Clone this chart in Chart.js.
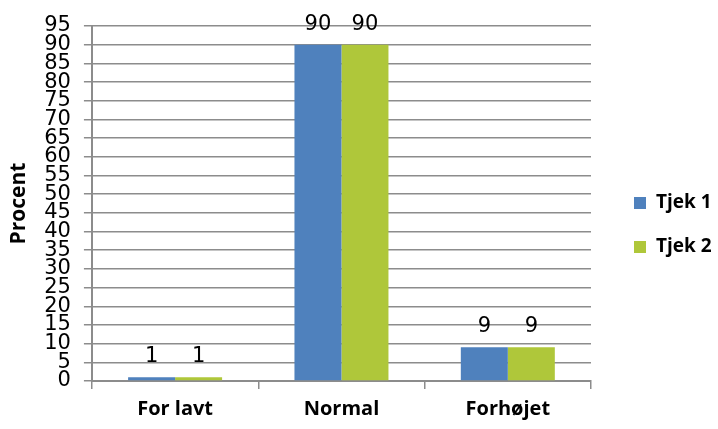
<!DOCTYPE html>
<html>
<head>
<meta charset="utf-8">
<script src="https://cdn.jsdelivr.net/npm/chart.js@4"></script>
<style>
  html, body { margin: 0; padding: 0; background: #fff; }
  #wrap { width: 718px; height: 429px; }
</style>
</head>
<body>
<div id="wrap"><canvas id="myChart" width="718" height="429"></canvas></div>
<script>
var categories = ['For lavt', 'Normal', 'Forhøjet'];
var tjek1 = [1, 90, 9];
var tjek2 = [1, 90, 9];
var seriesNames = ['Tjek 1', 'Tjek 2'];
var yTicks = [0, 5, 10, 15, 20, 25, 30, 35, 40, 45, 50, 55, 60, 65, 70, 75, 80, 85, 90, 95];

var blue = '#4F81BD';
var green = '#AFC73A';
var gridGray = '#8C8C8C';

// value labels above each bar
var valueLabels = {
    id: 'valueLabels',
    afterDatasetsDraw: function(chart) {
        var c = chart.ctx;
        c.save();
        c.font = '21px "DejaVu Sans"';
        c.fillStyle = '#000';
        c.textAlign = 'center';
        c.textBaseline = 'bottom';
        chart.data.datasets.forEach(function(ds, i) {
            chart.getDatasetMeta(i).data.forEach(function(bar, j) {
                c.fillText(ds.data[j], bar.x, bar.y - 10);
            });
        });
        c.restore();
    }
};

// legend drawn at the right, like the original
var sideLegend = {
    id: 'sideLegend',
    afterDraw: function(chart) {
        var c = chart.ctx;
        c.save();
        c.font = 'bold 19px "Open Sans"';
        c.textBaseline = 'middle';
        c.textAlign = 'left';
        chart.data.datasets.forEach(function(ds, i) {
            var y = 203 + i * 44;
            c.fillStyle = ds.backgroundColor;
            c.fillRect(634, y - 6, 12, 12);
            c.fillStyle = '#000';
            c.fillText(ds.label, 656, y);
        });
        c.restore();
    }
};

var ctx = document.getElementById('myChart');
var myChart = new Chart(ctx, {
    type: 'bar',
    data: {
        labels: categories,
        datasets: [{
            label: seriesNames[0],
            data: tjek1,
            backgroundColor: blue,
            categoryPercentage: 0.565,
            barPercentage: 1.0
        }, {
            label: seriesNames[1],
            data: tjek2,
            backgroundColor: green,
            categoryPercentage: 0.565,
            barPercentage: 1.0
        }]
    },
    options: {
        responsive: false,
        animation: false,
        layout: { padding: { top: 26, right: 127, left: 6, bottom: 0 } },
        plugins: {
            legend: { display: false },
            tooltip: { enabled: false }
        },
        scales: {
            x: {
                grid: {
                    offset: true,
                    drawOnChartArea: false,
                    drawTicks: true,
                    tickLength: 8,
                    color: gridGray,
                    lineWidth: 1.5
                },
                border: { color: gridGray, width: 2 },
                ticks: {
                    color: '#000',
                    padding: 8,
                    font: { family: '"Open Sans"', size: 20, weight: 'bold' }
                }
            },
            y: {
                min: 0,
                max: 95,
                afterBuildTicks: function(axis) {
                    axis.ticks = yTicks.map(function(v) { return { value: v }; });
                },
                grid: {
                    color: gridGray,
                    lineWidth: 1.5,
                    tickLength: 8
                },
                border: { color: gridGray, width: 2 },
                ticks: {
                    autoSkip: false,
                    color: '#000',
                    padding: 13,
                    font: { family: '"DejaVu Sans"', size: 21 }
                },
                title: {
                    display: true,
                    text: 'Procent',
                    color: '#000',
                    padding: { top: 0, bottom: 0 },
                    font: { family: '"Open Sans"', size: 21, weight: 'bold' }
                }
            }
        }
    },
    plugins: [valueLabels, sideLegend]
});
</script>
</body>
</html>
